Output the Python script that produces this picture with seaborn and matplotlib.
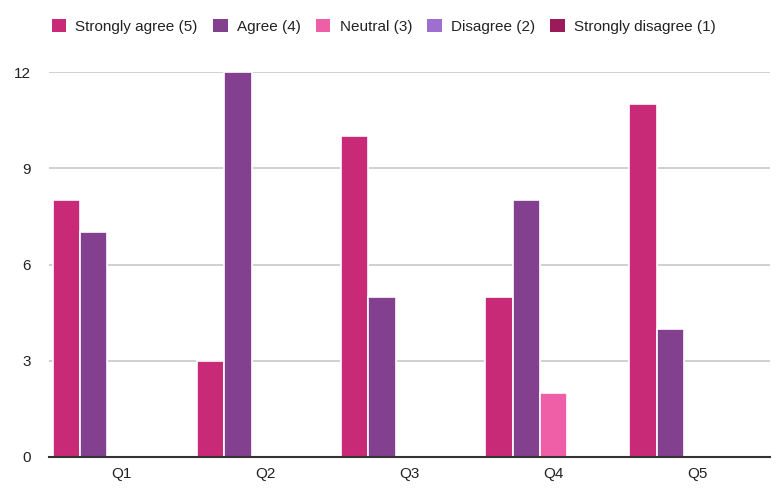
import matplotlib
matplotlib.use("Agg")
import matplotlib.pyplot as plt
import seaborn as sns
import pandas as pd
from matplotlib.patches import Patch

questions = ["Q1", "Q2", "Q3", "Q4", "Q5"]
responses = ["Strongly agree (5)", "Agree (4)", "Neutral (3)", "Disagree (2)", "Strongly disagree (1)"]
strongly_agree = [8, 3, 10, 5, 11]
agree = [7, 12, 5, 8, 4]
neutral = [0, 0, 0, 2, 0]
disagree = [0, 0, 0, 0, 0]
strongly_disagree = [0, 0, 0, 0, 0]
colors = ["#C92A77", "#82408E", "#EF5FA7", "#9E6FCF", "#9B1B5A"]
yticks = [0, 3, 6, 9, 12]

series = [strongly_agree, agree, neutral, disagree, strongly_disagree]
rows = []
for resp, vals in zip(responses, series):
    for q, v in zip(questions, vals):
        rows.append({"Question": q, "Response": resp, "Count": v})
df = pd.DataFrame(rows)

sns.set_theme(style="white")
plt.rcParams["font.family"] = ["Liberation Sans", "DejaVu Sans"]

fig = plt.figure(figsize=(7.78, 4.95), dpi=100)
ax = fig.add_axes([49 / 778, 1 - 457 / 495, 721 / 778, (457 - 72) / 495])

sns.barplot(data=df, x="Question", y="Count", hue="Response", hue_order=responses,
            palette=colors, width=0.95, ax=ax, edgecolor="white", linewidth=1.2,
            legend=False, saturation=1)

ax.set_ylim(0, 12)
ax.set_xlim(-0.5, 4.5)
ax.set_yticks(yticks)
ax.set_yticklabels([str(t) for t in yticks])
ax.yaxis.grid(True, color="#C8C8C8", linewidth=1.2)
ax.set_axisbelow(True)
for s in ["top", "right", "left"]:
    ax.spines[s].set_visible(False)
ax.spines["bottom"].set_color("#333333")
ax.spines["bottom"].set_linewidth(1.5)
ax.spines["bottom"].set_zorder(5)
ax.set_xlabel("")
ax.set_ylabel("")
ax.tick_params(axis="y", length=0, pad=13, labelsize=11, labelcolor="#222222")
ax.tick_params(axis="x", length=0, pad=7, labelsize=11, labelcolor="#222222")

handles = [Patch(facecolor=c, edgecolor="none") for c in colors]
fig.legend(handles, responses, loc="upper left", bbox_to_anchor=(38 / 778, 1 - 5 / 495),
           ncol=5, frameon=False, fontsize=11, handlelength=0.95, handleheight=0.95,
           handletextpad=0.6, columnspacing=1.0, labelcolor="#222222")

fig.savefig("out.png", dpi=100)
